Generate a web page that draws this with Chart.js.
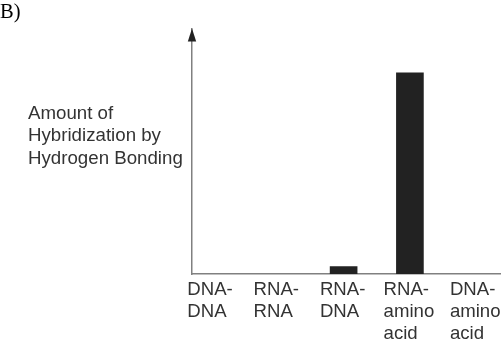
<!DOCTYPE html>
<html>
<head>
<meta charset="utf-8">
<script src="https://cdn.jsdelivr.net/npm/chart.js@4"></script>
<style>
html,body{margin:0;padding:0;background:#fff;}
#wrap{width:501px;height:346px;position:relative;}
</style>
</head>
<body>
<div id="wrap"><canvas id="c" width="501" height="346"></canvas></div>
<script>
const panelLabel = "B)";
const categories = [["DNA-","DNA"],["RNA-","RNA"],["RNA-","DNA"],["RNA-","amino","acid"],["DNA-","amino","acid"]];
const hybridization = [0, 0, 3, 82, 0];
const yTitleLines = ["Amount of", "Hybridization by", "Hydrogen Bonding"];

const sans = "'Liberation Sans', Arial, sans-serif";
const tickFontSize = 18.6;

const yTitlePlugin = {
  id: 'yTitle',
  afterDraw(chart) {
    const ctx = chart.ctx;
    ctx.save();
    ctx.fillStyle = '#333';
    ctx.font = "18.7px " + sans;
    ctx.textAlign = 'left';
    ctx.textBaseline = 'alphabetic';
    yTitleLines.forEach((t, i) => ctx.fillText(t, 28, 118.5 + i * 22.5));
    ctx.restore();
  }
};

const arrowPlugin = {
  id: 'arrow',
  afterDraw(chart) {
    const {left, top} = chart.chartArea;
    const ctx = chart.ctx;
    ctx.save();
    ctx.fillStyle = '#222';
    ctx.beginPath();
    ctx.moveTo(left, top);
    ctx.lineTo(left - 4.2, top + 13);
    ctx.lineTo(left + 4.2, top + 13);
    ctx.closePath();
    ctx.fill();
    ctx.restore();
  }
};

// centre each left-aligned multi-line label block under its category
const labelBlockPlugin = {
  id: 'labelBlock',
  afterLayout(chart) {
    const s = chart.scales.x;
    const ctx = chart.ctx;
    ctx.save();
    ctx.font = tickFontSize + "px " + sans;
    const pxPerUnit = s.width / (s.max - s.min);
    s.ticks.forEach((t, i) => {
      const w = Math.max(...categories[i].map(l => ctx.measureText(l).width));
      t.value = i - (w / 2) / pxPerUnit;
    });
    ctx.restore();
    s._labelItems = null;
  }
};

new Chart(document.getElementById('c'), {
  type: 'bar',
  data: {
    datasets: [{
      data: hybridization.map((v, i) => ({x: i, y: v})),
      backgroundColor: (ctx) => (ctx.raw && ctx.raw.y > 0 ? '#222' : 'rgba(0,0,0,0)'),
      borderWidth: 0,
      barThickness: 27
    }]
  },
  options: {
    responsive: false,
    animation: false,
    layout: {padding: 0},
    plugins: {
      legend: {display: false},
      tooltip: {enabled: false},
      title: {
        display: true,
        text: panelLabel,
        align: 'start',
        color: '#000',
        font: {family: "'Liberation Serif', 'Times New Roman', serif", size: 20.5, weight: 'normal', lineHeight: 1.2},
        padding: {top: 0, bottom: 4}
      }
    },
    scales: {
      x: {
        type: 'linear',
        min: -0.287,
        max: 4.374,
        offset: false,
        bounds: 'data',
        grid: {display: false, drawTicks: false},
        border: {display: true, color: '#808080', width: 1.5},
        afterBuildTicks(scale) {
          scale.ticks = categories.map((_, i) => ({value: i}));
        },
        afterFit(scale) {
          scale.height = 72;
          scale.paddingLeft = 0;
          scale.paddingRight = 0;
        },
        ticks: {
          autoSkip: false,
          maxRotation: 0,
          minRotation: 0,
          align: 'start',
          labelOffset: -1,
          padding: 5,
          color: '#333',
          font: {family: sans, size: tickFontSize, lineHeight: 1.17},
          callback: (v, i) => categories[i]
        }
      },
      y: {
        min: 0,
        max: 100,
        grid: {display: false},
        border: {display: true, color: '#808080', width: 1.5},
        ticks: {display: false},
        afterFit(scale) { scale.width = 192; }
      }
    }
  },
  plugins: [yTitlePlugin, arrowPlugin, labelBlockPlugin]
});
</script>
</body>
</html>
